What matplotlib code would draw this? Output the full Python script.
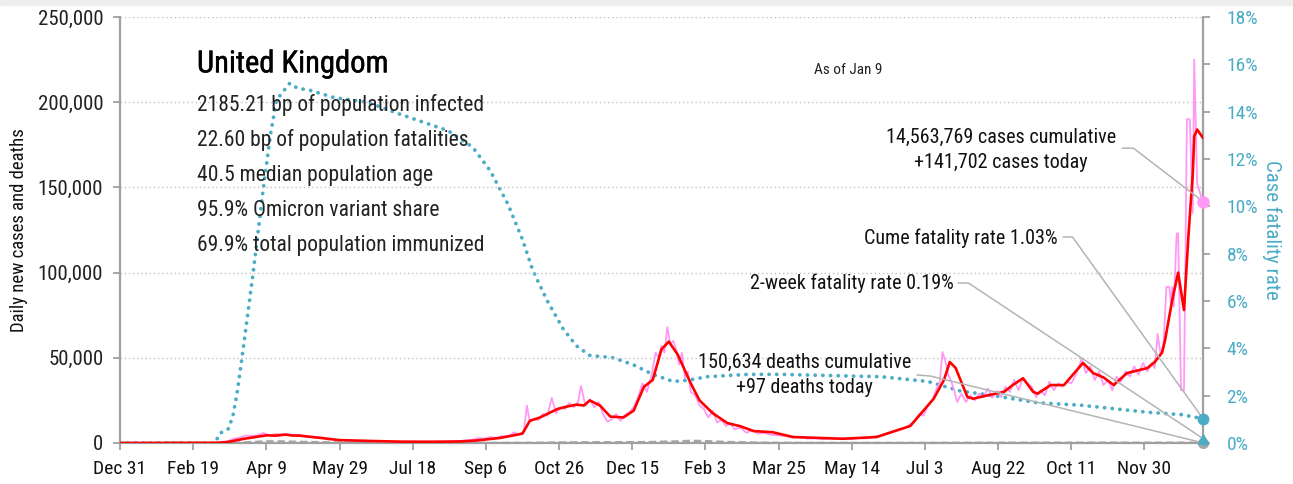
import matplotlib
matplotlib.use("Agg")
import matplotlib.pyplot as plt
import matplotlib.patheffects as pe
from matplotlib import font_manager
from matplotlib.patches import Rectangle
from matplotlib.ticker import FuncFormatter, MultipleLocator

# x axis is days since Dec 31, 2019
tick_days = list(range(0, 701, 50))
tick_labels = ["Dec 31", "Feb 19", "Apr 9", "May 29", "Jul 18", "Sep 6", "Oct 26",
               "Dec 15", "Feb 3", "Mar 25", "May 14", "Jul 3", "Aug 22", "Oct 11", "Nov 30"]

# daily reported new cases: (day, thousands)
raw_points = [
    (0, 0), (60, 0), (66, 0.2), (70, 0.6), (74, 1.2), (78, 2.6), (82, 3.2), (86, 4.4),
    (90, 4.1), (94, 4.6), (98, 5.9), (102, 4.5), (106, 5.2), (110, 5.0), (114, 5.3),
    (118, 4.3), (122, 4.9), (126, 3.8), (130, 3.6), (134, 3.0), (138, 3.3), (142, 2.1),
    (146, 2.0), (150, 1.6), (155, 1.4), (160, 1.3), (165, 1.2), (170, 1.1), (180, 0.9),
    (190, 0.8), (200, 0.7), (210, 0.8), (220, 0.9), (228, 1.0), (234, 1.3), (240, 1.8),
    (245, 2.9), (249, 2.6), (253, 3.5), (257, 3.0), (261, 4.1), (265, 3.6), (269, 6.2),
    (273, 5.0), (276, 7.0), (278, 22.0), (280, 12.5), (283, 14.0), (286, 13.5), (289, 17.0),
    (292, 16.0), (295, 26.5), (298, 17.5), (301, 21.0), (304, 20.0), (307, 23.5), (310, 21.0),
    (313, 24.0), (315, 33.5), (318, 22.0), (321, 25.5), (324, 21.0), (327, 24.0), (330, 17.0),
    (333, 12.5), (336, 14.0), (339, 17.0), (342, 13.0), (345, 16.5), (348, 18.0), (351, 21.0),
    (354, 27.0), (357, 35.0), (360, 30.0), (363, 39.0), (366, 53.0), (368, 50.0), (370, 57.0),
    (372, 53.0), (374, 68.0), (376, 58.0), (378, 60.0), (380, 55.0), (382, 46.0), (384, 53.0),
    (386, 38.0), (388, 42.0), (390, 30.0), (393, 28.0), (396, 22.0), (399, 20.0), (402, 15.0),
    (405, 19.0), (408, 12.0), (411, 13.5), (414, 10.0), (417, 11.5), (420, 8.0), (424, 9.0),
    (428, 6.0), (432, 7.5), (436, 5.5), (440, 6.0), (445, 4.8), (450, 4.5), (455, 4.0),
    (460, 3.2), (465, 3.6), (470, 2.5), (475, 2.8), (480, 2.2), (485, 2.7), (490, 2.3),
    (495, 2.6), (500, 2.2), (505, 2.9), (510, 2.7), (515, 3.6), (520, 4.5), (524, 5.8),
    (528, 6.5), (532, 8.0), (536, 8.5), (540, 11.0), (543, 12.5), (546, 17.0), (549, 16.0),
    (552, 22.0), (555, 25.0), (558, 32.0), (560, 35.0), (562, 53.4), (564, 48.0), (566, 40.0),
    (568, 36.0), (570, 31.0), (572, 24.0), (575, 29.0), (578, 24.0), (581, 28.0), (584, 25.0),
    (587, 29.0), (590, 27.0), (593, 32.0), (596, 26.5), (599, 30.5), (602, 27.0), (605, 33.0),
    (608, 30.0), (611, 37.0), (614, 31.0), (617, 38.0), (620, 35.0), (623, 33.0), (626, 27.0),
    (629, 31.0), (632, 28.0), (635, 36.0), (638, 31.0), (641, 35.0), (644, 33.0), (647, 36.0),
    (650, 35.0), (653, 40.0), (655, 44.0), (657, 49.5), (660, 41.0), (663, 45.0), (666, 37.0),
    (669, 42.0), (672, 34.0), (675, 37.0), (678, 31.0), (681, 39.0), (684, 36.0), (687, 42.0),
    (690, 39.0), (693, 45.0), (696, 40.0), (699, 47.0), (702, 42.0), (705, 47.0), (707, 44.0),
    (709, 64.0), (711, 52.0), (713, 58.0), (715, 91.6), (717, 91.6), (718, 82.0), (719, 91.6),
    (720, 80.0), (722, 123.0), (723, 123.0), (725, 31.0), (727, 31.0), (729, 190.0),
    (731, 190.0), (733, 135.0), (734, 225.0), (736, 152.0), (740, 141.702),
]

# 7-day average of new cases (thousands)
avg_days = [0, 65, 73, 85, 100, 106, 113, 118, 123, 137, 150, 171, 191, 212, 232, 244, 260, 275,
            280, 287, 293, 299, 306, 312, 317, 321, 328, 335, 344, 351, 358, 364, 370, 375, 381,
            390, 396, 405, 415, 424, 433, 446, 460, 477, 494, 517, 540, 556, 563, 567, 571, 579,
            583, 593, 604, 610, 617, 624, 627, 636, 645, 658, 665, 672, 679, 688, 695, 702, 707,
            712, 714, 719, 723, 727, 730, 733, 734, 736, 740]
avg_cases_k = [0, 0.1, 0.5, 2.5, 4.5, 4.3, 4.9, 4.4, 4.3, 3.0, 1.7, 1.2, 0.8, 0.7, 0.9, 1.5, 3.0,
               5.5, 13.0, 15.0, 17.5, 20.0, 21.5, 22.5, 22.0, 25.0, 22.0, 15.5, 15.0, 19.0, 33.0,
               37.0, 55.0, 59.5, 52.0, 35.0, 25.0, 17.5, 11.7, 9.8, 7.0, 6.3, 3.5, 3.0, 2.5, 3.5,
               10.0, 26.0, 37.0, 47.5, 44.0, 27.0, 26.0, 28.0, 30.0, 34.0, 38.0, 30.0, 29.0, 34.0,
               34.0, 47.0, 41.0, 38.5, 34.0, 41.0, 42.5, 44.0, 47.5, 53.0, 60.0, 84.0, 100.0, 78.0,
               121.0, 158.0, 180.0, 184.0, 179.0]

# daily deaths
death_days = [0, 70, 80, 90, 100, 110, 120, 130, 140, 150, 160, 170, 180, 190, 200, 220, 240, 260,
              280, 300, 320, 340, 360, 380, 390, 400, 410, 420, 430, 440, 460, 480, 520, 550, 570,
              590, 610, 640, 670, 700, 720, 730, 740]
deaths = [0, 0, 100, 500, 950, 900, 700, 550, 400, 280, 180, 120, 80, 60, 40, 15, 10, 30, 70,
          250, 400, 430, 500, 900, 1250, 1100, 700, 450, 250, 120, 40, 15, 10, 30, 70, 90, 110,
          130, 140, 120, 110, 150, 97]

# cumulative case fatality rate (%)
cfr_days = [0, 65, 68, 74, 77, 80, 84, 91, 98, 103, 107, 116, 121, 130, 146, 169, 191, 224, 241,
            253, 265, 275, 282, 292, 303, 312, 321, 337, 351, 364, 378, 388, 401, 429, 451, 520,
            552, 574, 597, 627, 656, 702, 725, 740]
cfr_pct = [0, 0, 0.4, 0.6, 1.1, 2.1, 3.9, 7.2, 10.8, 13.1, 14.5, 15.2, 15.0, 14.9, 14.6, 14.4,
           13.9, 13.2, 12.5, 11.5, 10.1, 8.6, 7.3, 6.0, 4.8, 4.1, 3.7, 3.6, 3.3, 2.9, 2.6, 2.65,
           2.8, 2.9, 2.9, 2.8, 2.6, 2.2, 2.0, 1.7, 1.6, 1.3, 1.2, 1.03]

country = "United Kingdom"
stats = ["2185.21 bp of population infected",
         "22.60 bp of population fatalities",
         "40.5 median population age",
         "95.9% Omicron variant share",
         "69.9% total population immunized"]
as_of = "As of Jan 9"
cases_cum = 14563769
deaths_cum = 150634
two_week_cfr = 0.19

PINK = "#ff99f5"
RED = "#ff0000"
TEAL = "#4bacc6"
GREY = "#a6a6a6"
LEADER = "#b4b4b4"

# pick a narrow face when one is installed
names = {f.name for f in font_manager.fontManager.ttflist}
font = "Liberation Sans"
for cand in ["Roboto Condensed", "Liberation Sans Narrow", "Arial Narrow", "Open Sans Condensed"]:
    if cand in names:
        font = cand
        break
plt.rcParams["font.family"] = [font, "DejaVu Sans"]

fig = plt.figure(figsize=(12.93, 4.84), dpi=100)
fig.patches.append(Rectangle((0, 1 - 5 / 484), 1, 5 / 484, transform=fig.transFigure,
                             color="#efefef", zorder=0))
ax = fig.add_axes([120 / 1293, 41 / 484, 1083 / 1293, 426 / 484])
ax2 = ax.twinx()
ax.set_zorder(ax2.get_zorder() + 1)
ax.patch.set_visible(False)

raw_days = [d for d, _ in raw_points]
raw = [v * 1000 for _, v in raw_points]
avg = [v * 1000 for v in avg_cases_k]

ax2.plot(cfr_days, cfr_pct, color=TEAL, lw=2.7, linestyle=(0, (0.05, 2.0)),
         dash_capstyle="round", zorder=2)
ax.plot(death_days, deaths, color=GREY, lw=1.8, linestyle=(0, (3, 1.5)), zorder=2)
ax.plot(raw_days, raw, color=PINK, lw=1.3, zorder=3)
ax.plot(avg_days, avg, color=RED, lw=1.9, zorder=4)

ax.set_xlim(0, 740)
ax.set_ylim(0, 250000)
ax2.set_ylim(0, 18)

ax.set_xticks(tick_days)
ax.set_xticklabels(tick_labels)
ax.yaxis.set_major_locator(MultipleLocator(50000))
ax.yaxis.set_major_formatter(FuncFormatter(lambda v, p: f"{int(v):,}"))
ax2.yaxis.set_major_locator(MultipleLocator(2))
ax2.yaxis.set_major_formatter(FuncFormatter(lambda v, p: f"{int(v)}%"))

for s in ["top", "right"]:
    ax.spines[s].set_visible(False)
for s in ["top", "left", "bottom"]:
    ax2.spines[s].set_visible(False)
for sp in [ax.spines["left"], ax.spines["bottom"], ax2.spines["right"]]:
    sp.set_color("#a0a0a0")
    sp.set_linewidth(1.6)

ax.tick_params(axis="x", length=5, width=1.3, color="#a0a0a0", labelsize=14, pad=7,
               labelcolor="#111111")
ax.tick_params(axis="y", length=5, width=1.3, color="#a0a0a0", labelsize=15, pad=7,
               labelcolor="#222222")
ax2.tick_params(axis="y", length=5, width=1.3, color="#a0a0a0", labelsize=14, pad=12,
                labelcolor=TEAL)
ax.yaxis.grid(True, linestyle=(0, (1, 2)), color="#c0c0c0", lw=1)
ax.set_axisbelow(True)

ax.set_ylabel("Daily new cases and deaths", fontsize=13.5, color="#111111", labelpad=7)
ax2.set_ylabel("Case fatality rate", fontsize=15, color=TEAL, rotation=270, labelpad=17)

# headline block
ax.text(52.6, 222500, country, fontsize=22, color="#000000", va="center", ha="left",
        path_effects=[pe.withStroke(linewidth=0.3, foreground="#000000")])
for i, line in enumerate(stats):
    ax.text(52.6, 198300 - i * 20600, line, fontsize=15.5, color="#222222",
            va="center", ha="left")
ax.text(497.6, 219000, as_of, fontsize=11, color="#222222", va="center", ha="center")

# end-of-series markers
k = 250000 / 18
end_day = raw_days[-1]
ax.plot(end_day, raw[-1], "o", color=PINK, ms=8, clip_on=False, zorder=6)
ax.plot(end_day, deaths[-1], "o", color=GREY, ms=7, clip_on=False, zorder=6)
ax.plot(end_day, cfr_pct[-1] * k, "o", color=TEAL, ms=7.5, clip_on=False, zorder=7)
ax.plot(end_day, two_week_cfr * k, "^", color=TEAL, ms=7.5, clip_on=False, zorder=7)

# callouts with leader lines
lab = dict(fontsize=14.5, color="#111111", zorder=5)
ax.text(602, 172000, f"{cases_cum:,} cases cumulative\n+{raw[-1]:,.0f} cases today",
        ha="center", va="center", linespacing=1.35, **lab)
ax.plot([685, 692.5, end_day], [173000, 173000, raw[-1]], color=LEADER, lw=1.1,
        clip_on=False, zorder=5)

ax.text(640.5, 120300, f"Cume fatality rate {cfr_pct[-1]:.2f}%", ha="right", va="center", **lab)
ax.plot([644.6, 650.8, end_day], [120900, 120900, cfr_pct[-1] * k], color=LEADER, lw=1.1,
        clip_on=False, zorder=5)

ax.text(569.4, 93900, f"2-week fatality rate {two_week_cfr:.2f}%", ha="right", va="center", **lab)
ax.plot([572.8, 579.7, end_day], [93900, 93900, two_week_cfr * k], color=LEADER, lw=1.1,
        clip_on=False, zorder=5)

ax.text(468, 39900, f"{deaths_cum:,} deaths cumulative\n+{deaths[-1]} deaths today",
        ha="center", va="center", linespacing=1.35, **lab)
ax.plot([544.8, 553.7, end_day], [39900, 39300, deaths[-1]], color=LEADER, lw=1.1,
        clip_on=False, zorder=5)

fig.savefig("out.png", dpi=100)
